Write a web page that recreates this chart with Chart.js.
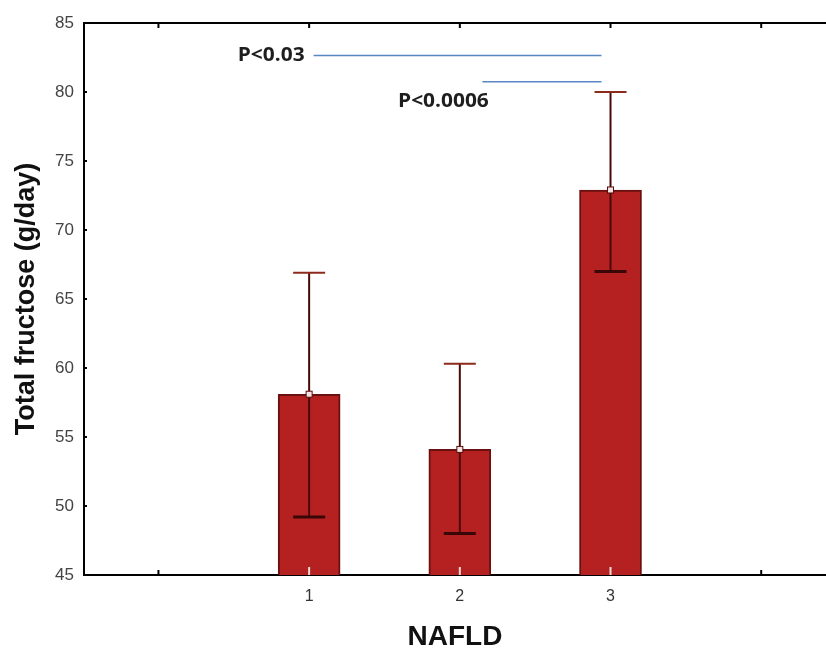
<!DOCTYPE html>
<html>
<head>
<meta charset="utf-8">
<script src="https://cdn.jsdelivr.net/npm/chart.js@4"></script>
<style>
  html, body { margin: 0; padding: 0; background: #fff; }
  #wrap { width: 826px; height: 651px; position: relative; }
</style>
</head>
<body>
<div id="wrap"><canvas id="chart"></canvas></div>
<script>
// NAFLD groups and total fructose (g/day)
const groups = [1, 2, 3];
const means = [58.1, 54.1, 72.9];
const upper = [66.9, 60.3, 80.0];
const lower = [49.2, 48.0, 67.0];

// axis ticks
const yTicks = [45, 50, 55, 60, 65, 70, 75, 80, 85];
const xLabelTicks = [1, 2, 3];
const xMinorTicks = [0, 1, 2, 3, 4];

// significance brackets
const sigLabels = ['P<0.03', 'P<0.0006'];
const sigY = [82.65, 80.75];
const sigFrom = [1.03, 2.15];
const sigTo = [2.94, 2.94];
const sigTextX = [0.97, 1.59];
const sigTextY = [82.65, 79.3];
const sigAlign = ['right', 'left'];

const FONT = "'Liberation Sans', Arial, sans-serif";

const decor = {
    id: 'decor',
    afterDatasetsDraw(chart) {
        const { ctx, chartArea: area, scales: { x, y } } = chart;
        ctx.save();

        // error bars
        groups.forEach((g, i) => {
            const px = x.getPixelForValue(g);
            const top = y.getPixelForValue(upper[i]);
            const bot = y.getPixelForValue(lower[i]);
            ctx.strokeStyle = '#4a0909';
            ctx.lineWidth = 2;
            ctx.beginPath();
            ctx.moveTo(px, top);
            ctx.lineTo(px, bot);
            ctx.stroke();
            ctx.strokeStyle = '#8e2a1c';
            ctx.beginPath();
            ctx.moveTo(px - 16, top);
            ctx.lineTo(px + 16, top);
            ctx.stroke();
            ctx.strokeStyle = '#3a0707';
            ctx.lineWidth = 3;
            ctx.beginPath();
            ctx.moveTo(px - 16, bot);
            ctx.lineTo(px + 16, bot);
            ctx.stroke();
            // mean marker
            const my = y.getPixelForValue(means[i]);
            ctx.lineWidth = 1;
            ctx.fillStyle = '#f4e4e4';
            ctx.strokeStyle = '#5a0c0c';
            ctx.fillRect(px - 3, my - 3, 6, 6);
            ctx.strokeRect(px - 3, my - 3, 6, 6);
        });

        // frame: top line
        ctx.strokeStyle = '#000';
        ctx.lineWidth = 2;
        ctx.beginPath();
        ctx.moveTo(area.left - 1, area.top);
        ctx.lineTo(area.right, area.top);
        ctx.stroke();

        // inward ticks
        ctx.lineWidth = 2;
        xMinorTicks.forEach(v => {
            const px = x.getPixelForValue(v);
            ctx.strokeStyle = '#000';
            ctx.beginPath();
            ctx.moveTo(px, area.top);
            ctx.lineTo(px, area.top + 5);
            ctx.stroke();
            ctx.strokeStyle = xLabelTicks.includes(v) ? '#f3dada' : '#000';
            ctx.beginPath();
            ctx.moveTo(px, area.bottom);
            ctx.lineTo(px, area.bottom - (xLabelTicks.includes(v) ? 8 : 5));
            ctx.stroke();
        });
        ctx.strokeStyle = '#000';
        yTicks.forEach(v => {
            const py = y.getPixelForValue(v);
            ctx.beginPath();
            ctx.moveTo(area.left, py);
            ctx.lineTo(area.left + 3, py);
            ctx.stroke();
        });

        // significance lines
        ctx.strokeStyle = '#5b86c4';
        ctx.lineWidth = 1.5;
        sigLabels.forEach((t, i) => {
            const py = y.getPixelForValue(sigY[i]);
            ctx.beginPath();
            ctx.moveTo(x.getPixelForValue(sigFrom[i]), py);
            ctx.lineTo(x.getPixelForValue(sigTo[i]), py);
            ctx.stroke();
        });
        ctx.fillStyle = '#1e1e1e';
        ctx.font = "bold 19px 'Open Sans', " + FONT;
        ctx.textBaseline = 'middle';
        sigLabels.forEach((t, i) => {
            ctx.save();
            ctx.translate(x.getPixelForValue(sigTextX[i]), y.getPixelForValue(sigTextY[i]));
            ctx.scale(1.1, 1);
            ctx.textAlign = sigAlign[i];
            ctx.fillText(t, 0, 0);
            ctx.restore();
        });

        ctx.restore();
    }
};

new Chart(document.getElementById('chart'), {
    type: 'bar',
    data: {
        datasets: [{
            data: groups.map((g, i) => ({ x: g, y: means[i] })),
            backgroundColor: '#b52121',
            borderColor: '#6a1010',
            borderWidth: 2,
            borderSkipped: 'start',
            barThickness: 62
        }]
    },
    options: {
        responsive: true,
        maintainAspectRatio: false,
        animation: false,
        layout: { padding: { top: 23, right: 0, left: 0, bottom: 0 } },
        plugins: {
            legend: { display: false },
            tooltip: { enabled: false }
        },
        scales: {
            x: {
                type: 'linear',
                offset: false,
                min: -0.494,
                max: 4.43,
                afterBuildTicks: s => { s.ticks = xLabelTicks.map(v => ({ value: v })); },
                afterFit: s => { s.height = 76; },
                grid: { display: false, drawTicks: false },
                border: { display: true, color: '#000', width: 2 },
                ticks: {
                    color: '#333',
                    padding: 12,
                    font: { family: FONT, size: 16 }
                },
                title: {
                    display: true,
                    text: 'NAFLD',
                    color: '#111',
                    padding: { top: 0, bottom: 0 },
                    font: { family: FONT, size: 28, weight: 'bold', lineHeight: 1 }
                }
            },
            y: {
                min: 45,
                max: 85,
                afterBuildTicks: s => { s.ticks = yTicks.map(v => ({ value: v })); },
                afterFit: s => { s.width = 84; },
                grid: { display: false, drawTicks: false },
                border: { display: true, color: '#000', width: 2 },
                ticks: {
                    color: '#444',
                    padding: 10,
                    font: { family: FONT, size: 17 }
                },
                title: {
                    display: true,
                    text: 'Total fructose (g/day)',
                    color: '#111',
                    padding: { top: 13, bottom: 0 },
                    font: { family: FONT, size: 27, weight: 'bold', lineHeight: 1 }
                }
            }
        }
    },
    plugins: [decor]
});
</script>
</body>
</html>
